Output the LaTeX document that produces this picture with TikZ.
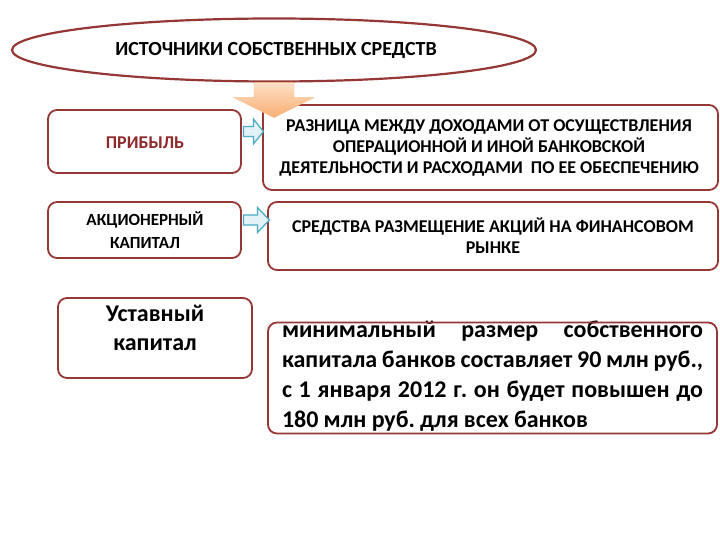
\documentclass[tikz,border=0pt]{standalone}
\usepackage{fontspec}
\setmainfont{Carlito}
\usetikzlibrary{shapes.geometric}
\definecolor{brd}{HTML}{953735}
\definecolor{arrblue}{HTML}{4BACC6}
\definecolor{arrfill}{HTML}{E3F2F7}
\definecolor{orgA}{HTML}{FDE0C6}
\definecolor{orgB}{HTML}{F8AE72}
\definecolor{redtxt}{HTML}{8E2A2A}
\newcommand\fullline[2][421pt]{\leavevmode\hbox to #1{#2}}
\begin{document}
\frenchspacing
\begin{tikzpicture}[x=1pt,y=-1pt,
  box/.style={draw=brd,line width=1.8pt,rounded corners=9pt,fill=white,inner sep=0pt},
  captxt/.style={font=\bfseries\fontsize{18}{21}\selectfont,align=center,inner sep=0pt},
  bigtxt/.style={font=\bfseries\fontsize{24}{30}\selectfont,inner sep=0pt},
  bluearrow/.style={draw=arrblue,fill=arrfill,line width=1.3pt,line join=miter}]
\useasboundingbox (0,0) rectangle (720,540);
\fill[white] (0,0) rectangle (720,540);

% title ellipse
\node[ellipse,draw=brd,line width=2.2pt,fill=white,minimum width=524pt,minimum height=63pt,inner sep=0pt] (title) at (274,50) {};
\node[font=\bfseries\fontsize{20}{24}\selectfont,inner sep=0pt] (titleT) at (276,50) {ИСТОЧНИКИ СОБСТВЕННЫХ СРЕДСТВ};

% left boxes
\node[box,minimum width=193pt,minimum height=63pt] (prib) at (144.5,141.5) {};
\node[captxt,text=redtxt] (pribT) at (145,143) {ПРИБЫЛЬ};
\node[box,minimum width=193pt,minimum height=56pt] (akc) at (144.5,230) {};
\node[captxt,font=\bfseries\fontsize{17}{23}\selectfont] (akcT) at (145,230) {АКЦИОНЕРНЫЙ\\КАПИТАЛ};
\node[box,minimum width=194pt,minimum height=80pt] (ust) at (155,338) {};
\node[font=\bfseries\fontsize{24}{29}\selectfont,inner sep=0pt,align=center] (ustT) at (155,328) {Уставный\\капитал};

% right boxes
\node[box,minimum width=455pt,minimum height=85pt] (raz) at (490.5,147.5) {};
\node[captxt] (razT) at (489,148) {РАЗНИЦА МЕЖДУ ДОХОДАМИ ОТ ОСУЩЕСТВЛЕНИЯ\\ОПЕРАЦИОННОЙ И ИНОЙ БАНКОВСКОЙ\\ДЕЯТЕЛЬНОСТИ И РАСХОДАМИ \ ПО ЕЕ ОБЕСПЕЧЕНИЮ};
\node[box,minimum width=450pt,minimum height=68pt] (sred) at (493,236) {};
\node[captxt] (sredT) at (493,236) {СРЕДСТВА РАЗМЕЩЕНИЕ АКЦИЙ НА ФИНАНСОВОМ\\РЫНКЕ};

\node[bigtxt,align=left,text width=421pt] (minT) at (492.5,376) {\fullline{минимальный\hfill размер\hfill собственного}\\\fullline{капитала\hfill банков\hfill составляет\hfill 90\hfill млн\hfill руб.,}\\\fullline{с\hfill 1\hfill января\hfill 2012\hfill г.\hfill он\hfill будет\hfill повышен\hfill до}\\\fullline[306pt]{180\hfill млн\hfill руб.\hfill для\hfill всех\hfill банков}};
\node[box,fill=none,minimum width=449pt,minimum height=111pt] (minB) at (492.5,378) {};

% orange down arrow
\shade[top color=orgA,bottom color=orgB,draw=orgB!80!white,line width=0.4pt]
  ([xshift=-20pt]title.south) -- ([xshift=20pt]title.south) -- ([xshift=20pt,yshift=-15pt]title.south)
  -- ([xshift=40pt,yshift=-15pt]title.south) -- ([yshift=-35pt]title.south)
  -- ([xshift=-40pt,yshift=-15pt]title.south) -- ([xshift=-20pt,yshift=-15pt]title.south) -- cycle;

% blue block arrows
\draw[bluearrow] ([xshift=1.5pt,yshift=5pt]prib.east) -- ++(10,0) -- ++(0,7.5) -- ++(10,-12.5) -- ++(-10,-12.5) -- ++(0,7.5) -- ++(-10,0) -- cycle;
\draw[bluearrow] ([xshift=1.5pt,yshift=5pt]akc.east) -- ++(14,0) -- ++(0,7.5) -- ++(12,-12.5) -- ++(-12,-12.5) -- ++(0,7.5) -- ++(-14,0) -- cycle;
\end{tikzpicture}
\end{document}
